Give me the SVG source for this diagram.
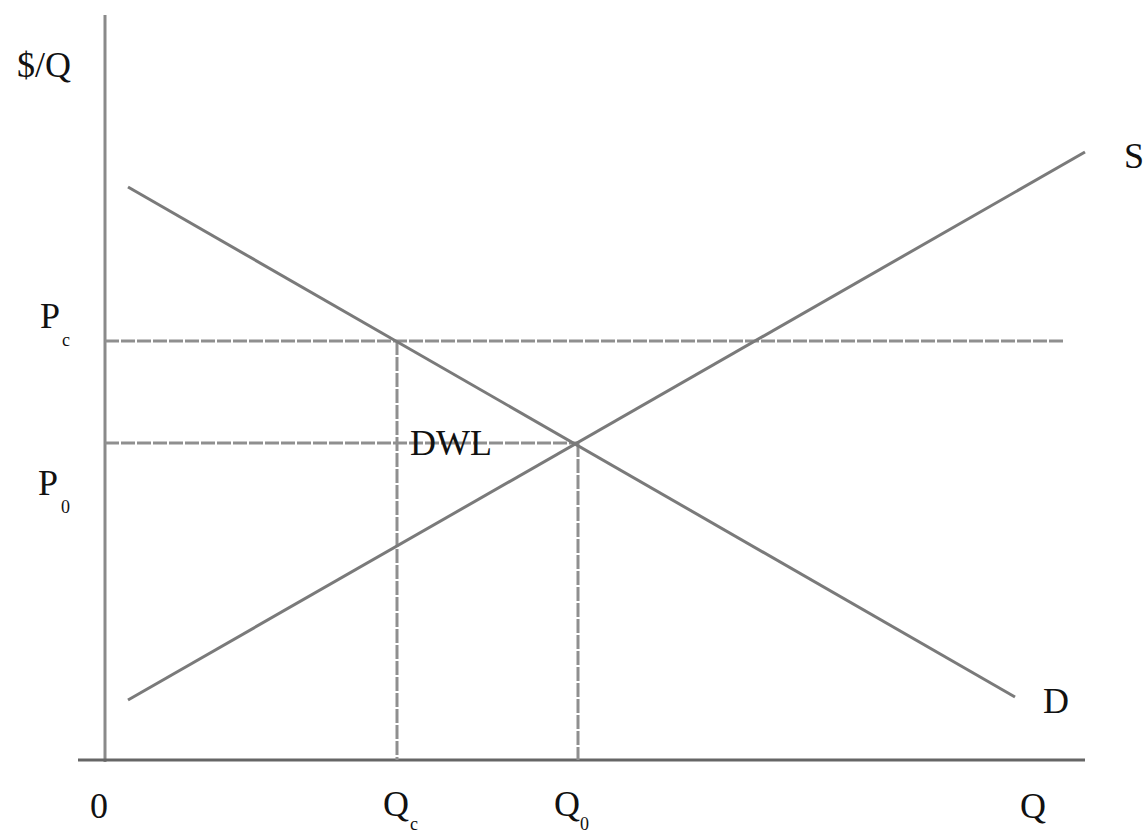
<svg xmlns="http://www.w3.org/2000/svg" width="1146" height="834" viewBox="0 0 1146 834">
<style>
.ax{stroke:#8a8a8a;stroke-width:3;fill:none}
.cv{stroke:#7a7a7a;stroke-width:3;fill:none}
.dl{stroke:#8f8f8f;stroke-width:3;fill:none;stroke-dasharray:14 2}
.t{font-family:"Liberation Serif","Times New Roman",serif;font-size:36px;fill:#111}
.s{font-family:"Liberation Serif","Times New Roman",serif;font-size:18px;fill:#111}
</style>
<rect width="1146" height="834" fill="#fff"/>
<g id="connectors">
<line class="ax" x1="105" y1="15" x2="105" y2="762"/>
<line class="ax" x1="78" y1="760" x2="1085" y2="760" style="stroke:#666"/>
<line class="dl" x1="105" y1="341" x2="1063" y2="341"/>
<line class="dl" x1="105" y1="443" x2="578" y2="443"/>
<line class="dl" x1="397" y1="341" x2="397" y2="760"/>
<line class="dl" x1="578" y1="443" x2="578" y2="760"/>
<line id="demand" class="cv" x1="128" y1="187" x2="1015" y2="697"/>
<line id="supply" class="cv" x1="128" y1="700" x2="1085" y2="152"/>
</g>
<g id="labels">
<text class="t" x="17" y="77">$/Q</text>
<g id="pc"><text class="t" x="40" y="328">P</text><text class="s" x="62" y="346">c</text></g>
<g id="p0"><text class="t" x="38" y="495">P</text><text class="s" x="61" y="513">0</text></g>
<text class="t" x="90" y="818">0</text>
<g id="qc"><text class="t" x="383" y="816">Q</text><text class="s" x="410" y="830">c</text></g>
<g id="q0"><text class="t" x="554" y="816">Q</text><text class="s" x="580" y="830">0</text></g>
<text class="t" x="1020" y="818">Q</text>
<text class="t" x="1043" y="713">D</text>
<text class="t" x="1124" y="168">S</text>
<text class="t" x="410" y="455">DWL</text>
</g>
</svg>
